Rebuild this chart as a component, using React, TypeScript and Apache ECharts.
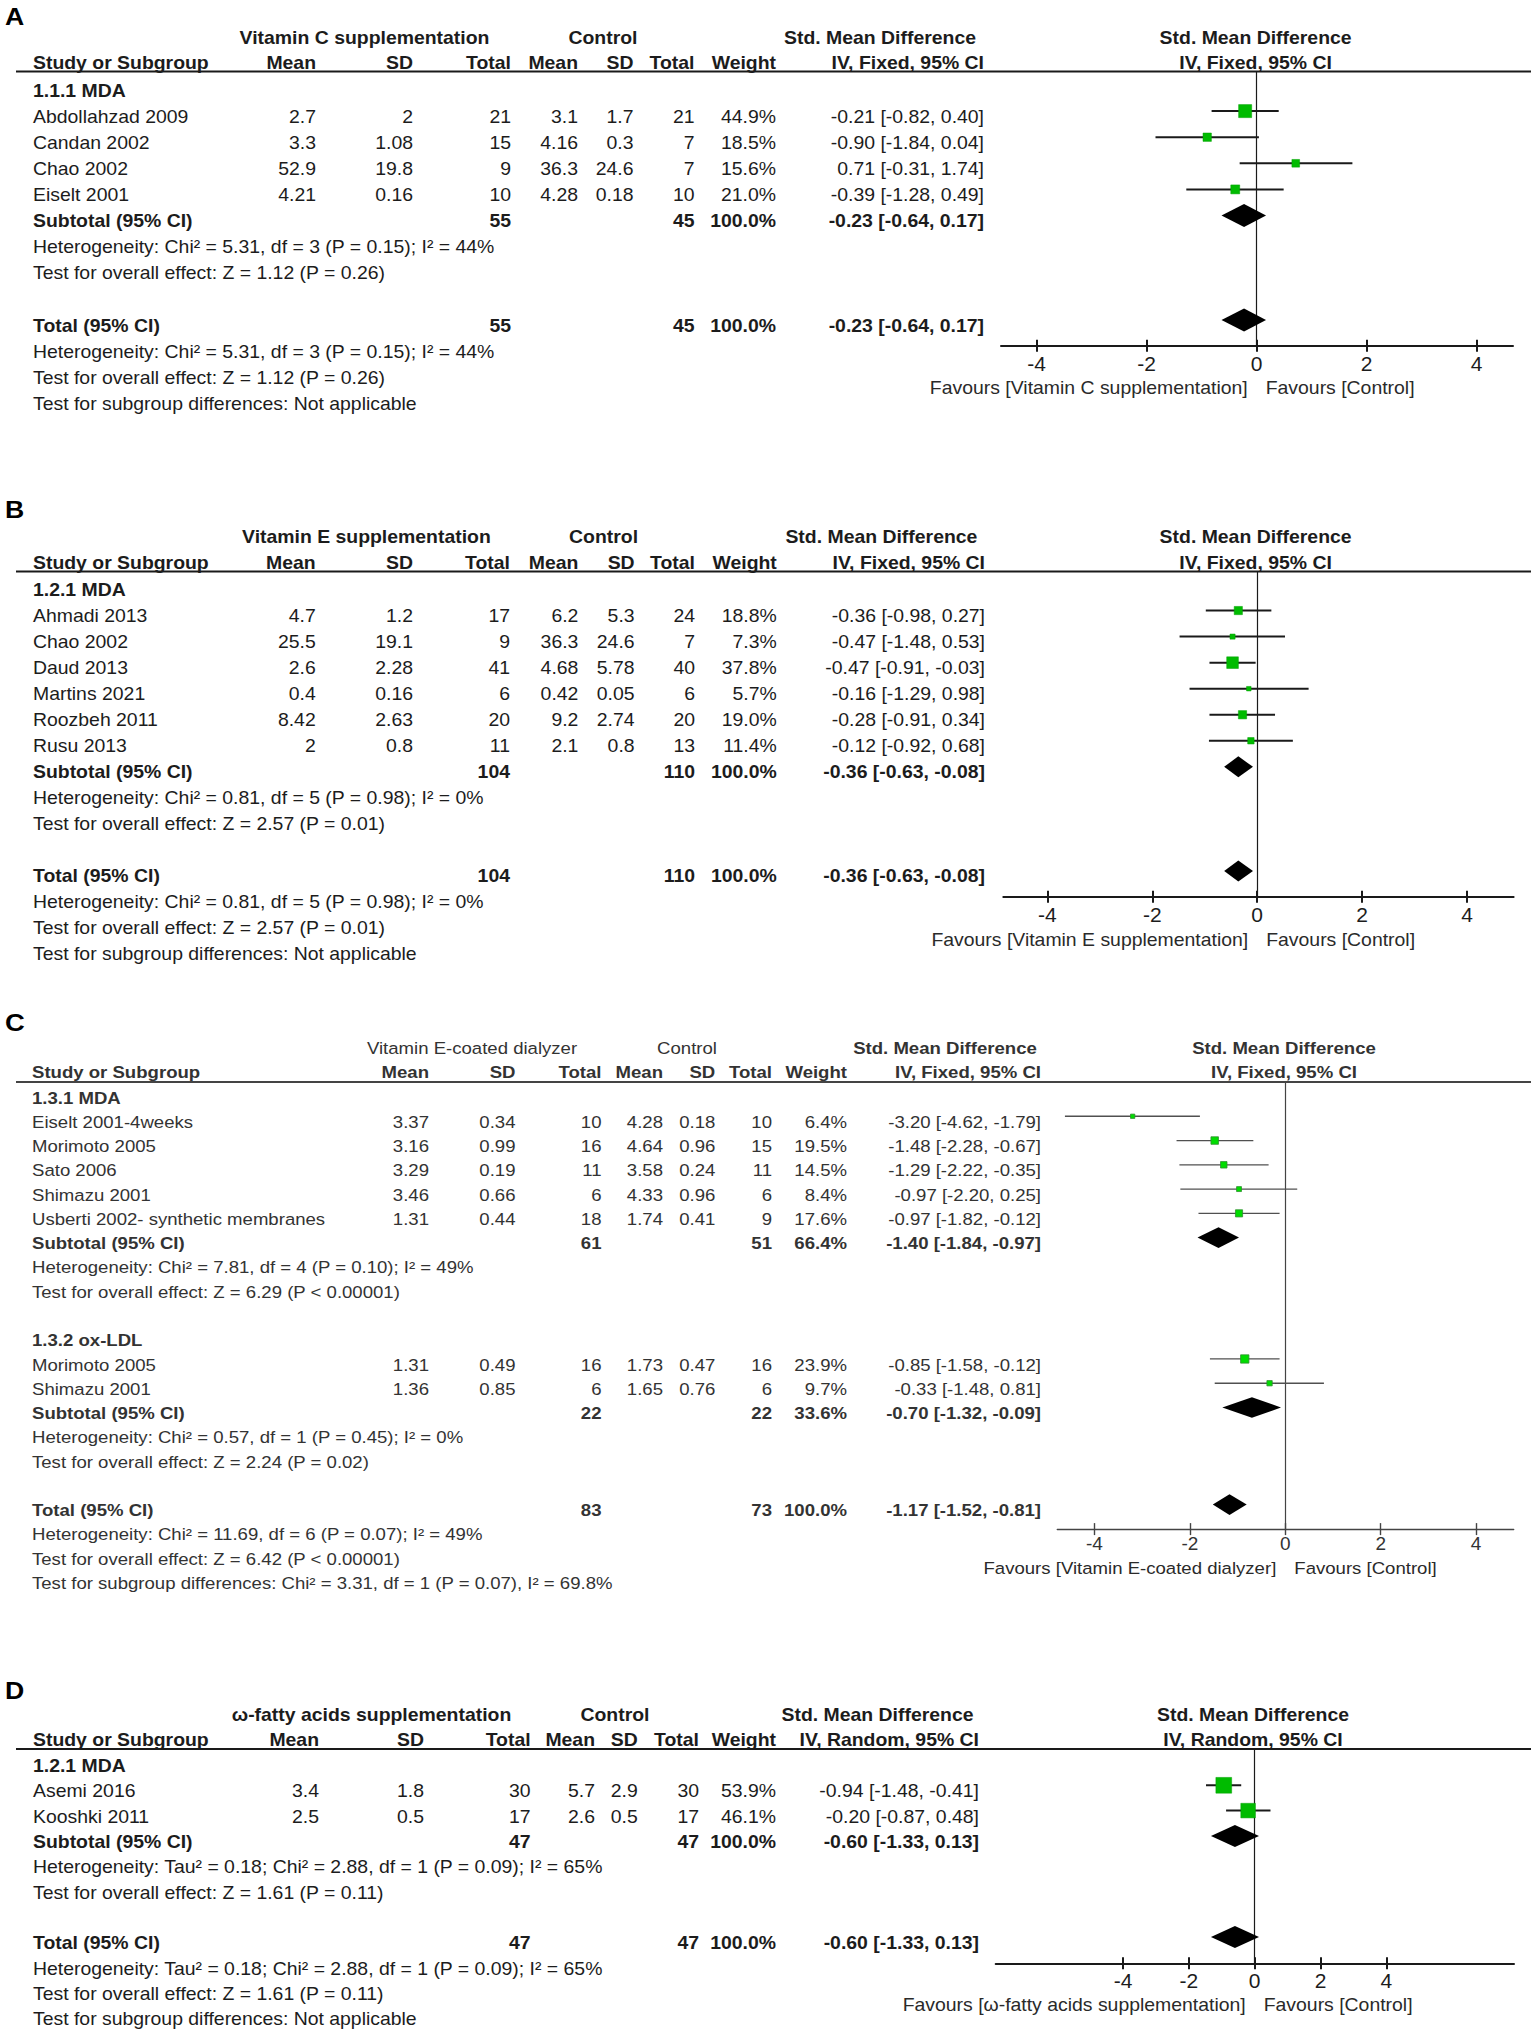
import React, { useEffect, useRef } from "react";
import * as echarts from "echarts";

type Study = [string, number, number, number, number, number, number, number, number, number, number];
// [nExp, nCtl, weight %, SMD, lower, upper]
type Summary = [number, number, number, number, number, number];

const W = 1535;
const H = 2031;
const FONT = "'Liberation Sans', Arial, sans-serif";

const X_TICKS = [-4, -2, 0, 2, 4];
const COL_HEADERS = ["Mean", "SD", "Total", "Mean", "SD", "Total", "Weight"];
const CONTROL_LABEL = "Control";
const SMD_LABEL = "Std. Mean Difference";
const STUDY_HEADER = "Study or Subgroup";
const FIXED = "IV, Fixed, 95% CI";
const RANDOM = "IV, Random, 95% CI";

// ---------- Panel A ----------
const A_EXP = "Vitamin C supplementation";
const A_GROUP = "1.1.1 MDA";
const A_STUDIES: Study[] = [
  ["Abdollahzad 2009", 2.7, 2, 21, 3.1, 1.7, 21, 44.9, -0.21, -0.82, 0.4],
  ["Candan 2002", 3.3, 1.08, 15, 4.16, 0.3, 7, 18.5, -0.9, -1.84, 0.04],
  ["Chao 2002", 52.9, 19.8, 9, 36.3, 24.6, 7, 15.6, 0.71, -0.31, 1.74],
  ["Eiselt 2001", 4.21, 0.16, 10, 4.28, 0.18, 10, 21.0, -0.39, -1.28, 0.49],
];
const A_SUBTOTAL: Summary = [55, 45, 100, -0.23, -0.64, 0.17];
const A_HET = "Heterogeneity: Chi² = 5.31, df = 3 (P = 0.15); I² = 44%";
const A_Z = "Test for overall effect: Z = 1.12 (P = 0.26)";
const A_TOTAL: Summary = [55, 45, 100, -0.23, -0.64, 0.17];
const A_TOTAL_HET = "Heterogeneity: Chi² = 5.31, df = 3 (P = 0.15); I² = 44%";
const A_TOTAL_Z = "Test for overall effect: Z = 1.12 (P = 0.26)";
const A_SUBGROUP_TEST = "Test for subgroup differences: Not applicable";

// ---------- Panel B ----------
const B_EXP = "Vitamin E supplementation";
const B_GROUP = "1.2.1 MDA";
const B_STUDIES: Study[] = [
  ["Ahmadi 2013", 4.7, 1.2, 17, 6.2, 5.3, 24, 18.8, -0.36, -0.98, 0.27],
  ["Chao 2002", 25.5, 19.1, 9, 36.3, 24.6, 7, 7.3, -0.47, -1.48, 0.53],
  ["Daud 2013", 2.6, 2.28, 41, 4.68, 5.78, 40, 37.8, -0.47, -0.91, -0.03],
  ["Martins 2021", 0.4, 0.16, 6, 0.42, 0.05, 6, 5.7, -0.16, -1.29, 0.98],
  ["Roozbeh 2011", 8.42, 2.63, 20, 9.2, 2.74, 20, 19.0, -0.28, -0.91, 0.34],
  ["Rusu 2013", 2, 0.8, 11, 2.1, 0.8, 13, 11.4, -0.12, -0.92, 0.68],
];
const B_SUBTOTAL: Summary = [104, 110, 100, -0.36, -0.63, -0.08];
const B_HET = "Heterogeneity: Chi² = 0.81, df = 5 (P = 0.98); I² = 0%";
const B_Z = "Test for overall effect: Z = 2.57 (P = 0.01)";
const B_TOTAL: Summary = [104, 110, 100, -0.36, -0.63, -0.08];
const B_TOTAL_HET = "Heterogeneity: Chi² = 0.81, df = 5 (P = 0.98); I² = 0%";
const B_TOTAL_Z = "Test for overall effect: Z = 2.57 (P = 0.01)";
const B_SUBGROUP_TEST = "Test for subgroup differences: Not applicable";

// ---------- Panel C ----------
const C_EXP = "Vitamin E-coated dialyzer";
const C_GROUP_1 = "1.3.1 MDA";
const C_STUDIES_1: Study[] = [
  ["Eiselt 2001-4weeks", 3.37, 0.34, 10, 4.28, 0.18, 10, 6.4, -3.2, -4.62, -1.79],
  ["Morimoto 2005", 3.16, 0.99, 16, 4.64, 0.96, 15, 19.5, -1.48, -2.28, -0.67],
  ["Sato 2006", 3.29, 0.19, 11, 3.58, 0.24, 11, 14.5, -1.29, -2.22, -0.35],
  ["Shimazu 2001", 3.46, 0.66, 6, 4.33, 0.96, 6, 8.4, -0.97, -2.2, 0.25],
  ["Usberti 2002- synthetic membranes", 1.31, 0.44, 18, 1.74, 0.41, 9, 17.6, -0.97, -1.82, -0.12],
];
const C_SUBTOTAL_1: Summary = [61, 51, 66.4, -1.4, -1.84, -0.97];
const C_HET_1 = "Heterogeneity: Chi² = 7.81, df = 4 (P = 0.10); I² = 49%";
const C_Z_1 = "Test for overall effect: Z = 6.29 (P < 0.00001)";
const C_GROUP_2 = "1.3.2 ox-LDL";
const C_STUDIES_2: Study[] = [
  ["Morimoto 2005", 1.31, 0.49, 16, 1.73, 0.47, 16, 23.9, -0.85, -1.58, -0.12],
  ["Shimazu 2001", 1.36, 0.85, 6, 1.65, 0.76, 6, 9.7, -0.33, -1.48, 0.81],
];
const C_SUBTOTAL_2: Summary = [22, 22, 33.6, -0.7, -1.32, -0.09];
const C_HET_2 = "Heterogeneity: Chi² = 0.57, df = 1 (P = 0.45); I² = 0%";
const C_Z_2 = "Test for overall effect: Z = 2.24 (P = 0.02)";
const C_TOTAL: Summary = [83, 73, 100, -1.17, -1.52, -0.81];
const C_TOTAL_HET = "Heterogeneity: Chi² = 11.69, df = 6 (P = 0.07); I² = 49%";
const C_TOTAL_Z = "Test for overall effect: Z = 6.42 (P < 0.00001)";
const C_SUBGROUP_TEST = "Test for subgroup differences: Chi² = 3.31, df = 1 (P = 0.07), I² = 69.8%";

// ---------- Panel D ----------
const D_EXP = "ω-fatty acids supplementation";
const D_GROUP = "1.2.1 MDA";
const D_STUDIES: Study[] = [
  ["Asemi 2016", 3.4, 1.8, 30, 5.7, 2.9, 30, 53.9, -0.94, -1.48, -0.41],
  ["Kooshki 2011", 2.5, 0.5, 17, 2.6, 0.5, 17, 46.1, -0.2, -0.87, 0.48],
];
const D_SUBTOTAL: Summary = [47, 47, 100, -0.6, -1.33, 0.13];
const D_HET = "Heterogeneity: Tau² = 0.18; Chi² = 2.88, df = 1 (P = 0.09); I² = 65%";
const D_Z = "Test for overall effect: Z = 1.61 (P = 0.11)";
const D_TOTAL: Summary = [47, 47, 100, -0.6, -1.33, 0.13];
const D_TOTAL_HET = "Heterogeneity: Tau² = 0.18; Chi² = 2.88, df = 1 (P = 0.09); I² = 65%";
const D_TOTAL_Z = "Test for overall effect: Z = 1.61 (P = 0.11)";
const D_SUBGROUP_TEST = "Test for subgroup differences: Not applicable";

type Group = { name: string; studies: Study[]; subtotal: Summary; het: string; z: string };
type Panel = {
  letter: string;
  exp: string;
  method: string;
  groups: Group[];
  total: Summary;
  totalHet: string;
  totalZ: string;
  subgroupTest: string;
};

const PANELS: Panel[] = [
  {
    letter: "A", exp: A_EXP, method: FIXED,
    groups: [{ name: A_GROUP, studies: A_STUDIES, subtotal: A_SUBTOTAL, het: A_HET, z: A_Z }],
    total: A_TOTAL, totalHet: A_TOTAL_HET, totalZ: A_TOTAL_Z, subgroupTest: A_SUBGROUP_TEST,
  },
  {
    letter: "B", exp: B_EXP, method: FIXED,
    groups: [{ name: B_GROUP, studies: B_STUDIES, subtotal: B_SUBTOTAL, het: B_HET, z: B_Z }],
    total: B_TOTAL, totalHet: B_TOTAL_HET, totalZ: B_TOTAL_Z, subgroupTest: B_SUBGROUP_TEST,
  },
  {
    letter: "C", exp: C_EXP, method: FIXED,
    groups: [
      { name: C_GROUP_1, studies: C_STUDIES_1, subtotal: C_SUBTOTAL_1, het: C_HET_1, z: C_Z_1 },
      { name: C_GROUP_2, studies: C_STUDIES_2, subtotal: C_SUBTOTAL_2, het: C_HET_2, z: C_Z_2 },
    ],
    total: C_TOTAL, totalHet: C_TOTAL_HET, totalZ: C_TOTAL_Z, subgroupTest: C_SUBGROUP_TEST,
  },
  {
    letter: "D", exp: D_EXP, method: RANDOM,
    groups: [{ name: D_GROUP, studies: D_STUDIES, subtotal: D_SUBTOTAL, het: D_HET, z: D_Z }],
    total: D_TOTAL, totalHet: D_TOTAL_HET, totalZ: D_TOTAL_Z, subgroupTest: D_SUBGROUP_TEST,
  },
];

// ---------- Layout (pixel positions & styles) ----------
type Layout = {
  letterY: number; h1: number; h2: number; lineY: number; row0: number; rowH: number;
  textX: number; cols: number[]; h1c: number[]; h1Bold: boolean; plotC: number;
  zeroX: number; unit: number; axisL: number; axisR: number; axisY: number; favY: number;
  font: number; sx: number; color: string; tickFont: number; tickMargin: number;
  markOff: number; boxK: number; diaH: number; ciW: number; ciColor: string;
  boxColor: string; boxStroke: string; boxStrokeW: number; axisColor: string; axisW: number;
};

const LAYOUTS: Layout[] = [
  {
    letterY: 16.5, h1: 38.3, h2: 63.3, lineY: 71.5, row0: 90.5, rowH: 26.1,
    textX: 33, cols: [316, 413, 511, 578, 633.5, 694.5, 776, 984], h1c: [364.5, 603, 880], h1Bold: true, plotC: 1255.6,
    zeroX: 1256.7, unit: 55.0, axisL: 1001, axisR: 1513, axisY: 345.7, favY: 388,
    font: 17.5, sx: 1.11, color: "#1c1c1c", tickFont: 21, tickMargin: 7,
    markOff: -5.5, boxK: 1.95, diaH: 11.5, ciW: 2, ciColor: "#1a1a1a",
    boxColor: "#00bb00", boxStroke: "#00a000", boxStrokeW: 0.5, axisColor: "#1a1a1a", axisW: 2,
  },
  {
    letterY: 509, h1: 536.7, h2: 562.7, lineY: 571.5, row0: 589.5, rowH: 26.05,
    textX: 33, cols: [315.7, 413, 510, 578.4, 634.6, 695, 776.8, 985], h1c: [366.4, 603.6, 881.4], h1Bold: true, plotC: 1255.6,
    zeroX: 1257.2, unit: 52.45, axisL: 1003.3, axisR: 1513.6, axisY: 896.7, favY: 940,
    font: 17.5, sx: 1.11, color: "#1c1c1c", tickFont: 21, tickMargin: 7,
    markOff: -5, boxK: 1.9, diaH: 10.5, ciW: 2, ciColor: "#1a1a1a",
    boxColor: "#00bb00", boxStroke: "#00a000", boxStrokeW: 0.5, axisColor: "#1a1a1a", axisW: 2,
  },
  {
    letterY: 1023, h1: 1048.4, h2: 1072.8, lineY: 1082, row0: 1098, rowH: 24.27,
    textX: 32, cols: [429, 515.5, 601.5, 663, 715.3, 772, 847, 1041], h1c: [472, 687, 945], h1Bold: false, plotC: 1284,
    zeroX: 1285.3, unit: 47.7, axisL: 1057.3, axisR: 1513.7, axisY: 1529.1, favY: 1568.5,
    font: 16.3, sx: 1.14, color: "#333333", tickFont: 19, tickMargin: 5,
    markOff: -6, boxK: 1.7, diaH: 10.3, ciW: 1.3, ciColor: "#505050",
    boxColor: "#00dd00", boxStroke: "#2f8f2f", boxStrokeW: 0.8, axisColor: "#444444", axisW: 1.4,
  },
  {
    letterY: 1690, h1: 1715, h2: 1740, lineY: 1749, row0: 1766, rowH: 25.3,
    textX: 33, cols: [319, 424, 530.6, 595, 637.8, 699, 776, 979], h1c: [371.5, 615, 877.5], h1Bold: true, plotC: 1253,
    zeroX: 1254.7, unit: 32.9, axisL: 995.7, axisR: 1514, axisY: 1963.3, favY: 2005,
    font: 17.5, sx: 1.11, color: "#1c1c1c", tickFont: 21, tickMargin: 7,
    markOff: -6, boxK: 2.15, diaH: 11, ciW: 2, ciColor: "#1a1a1a",
    boxColor: "#00bb00", boxStroke: "#00a000", boxStrokeW: 0.5, axisColor: "#1a1a1a", axisW: 2,
  },
];

const f2 = (v: number) => v.toFixed(2);
const ciText = (s: number, l: number, h: number) => `${f2(s)} [${f2(l)}, ${f2(h)}]`;

function buildOption() {
  const graphics: any[] = [];
  const grid: any[] = [];
  const xAxis: any[] = [];
  const yAxis: any[] = [];
  const series: any[] = [];

  PANELS.forEach((d, pi) => {
    const L = LAYOUTS[pi];
    const items: number[][] = [];
    const T = (
      x: number, y: number, text: string, align: string,
      bold = false, size = L.font, color = L.color
    ) => {
      graphics.push({
        type: "text", x, y, scaleX: L.sx, silent: true, z: 10,
        style: {
          text, fontFamily: FONT, fontSize: size, fontWeight: bold ? "bold" : "normal", fill: color,
          align, verticalAlign: "middle", textAlign: align, textVerticalAlign: "middle",
        },
      });
    };

    // panel letter
    T(5, L.letterY, d.letter, "left", true, 24, "#000");

    // header row 1
    T(L.h1c[0], L.h1, d.exp, "center", L.h1Bold);
    T(L.h1c[1], L.h1, CONTROL_LABEL, "center", L.h1Bold);
    T(L.h1c[2], L.h1, SMD_LABEL, "center", true);
    T(L.plotC, L.h1, SMD_LABEL, "center", true);
    // header row 2
    T(L.textX, L.h2, STUDY_HEADER, "left", true);
    COL_HEADERS.forEach((h, k) => T(L.cols[k], L.h2, h, "right", true));
    T(L.cols[7], L.h2, d.method, "right", true);
    T(L.plotC, L.h2, d.method, "center", true);
    // header rule
    graphics.push({
      type: "line", silent: true, z: 5,
      shape: { x1: 16, y1: L.lineY, x2: 1531, y2: L.lineY },
      style: { stroke: L.axisColor, lineWidth: 2 },
    });

    let r = 0;
    const rowY = (i: number) => L.row0 + i * L.rowH;
    const summaryRow = (label: string, s: Summary) => {
      const y = rowY(r);
      T(L.textX, y, label, "left", true);
      T(L.cols[2], y, String(s[0]), "right", true);
      T(L.cols[5], y, String(s[1]), "right", true);
      T(L.cols[6], y, `${s[2].toFixed(1)}%`, "right", true);
      T(L.cols[7], y, ciText(s[3], s[4], s[5]), "right", true);
      items.push([1, s[3], s[4], s[5], r, s[2]]);
      r++;
    };

    d.groups.forEach((g) => {
      T(L.textX, rowY(r), g.name, "left", true);
      r++;
      g.studies.forEach((s) => {
        const y = rowY(r);
        T(L.textX, y, s[0], "left");
        for (let k = 0; k < 6; k++) T(L.cols[k], y, String(s[k + 1]), "right");
        T(L.cols[6], y, `${s[7].toFixed(1)}%`, "right");
        T(L.cols[7], y, ciText(s[8], s[9], s[10]), "right");
        items.push([0, s[8], s[9], s[10], r, s[7]]);
        r++;
      });
      summaryRow("Subtotal (95% CI)", g.subtotal);
      T(L.textX, rowY(r), g.het, "left");
      r++;
      T(L.textX, rowY(r), g.z, "left");
      r++;
      r++; // blank line
    });
    summaryRow("Total (95% CI)", d.total);
    T(L.textX, rowY(r), d.totalHet, "left");
    r++;
    T(L.textX, rowY(r), d.totalZ, "left");
    r++;
    T(L.textX, rowY(r), d.subgroupTest, "left");

    // favours labels
    T(L.zeroX - 9, L.favY, `Favours [${d.exp}]`, "right", false, L.font, "#2a2a2a");
    T(L.zeroX + 9, L.favY, "Favours [Control]", "left", false, L.font, "#2a2a2a");

    // forest-plot coordinate system
    const mark0 = L.row0 + L.markOff;
    grid.push({
      left: L.axisL, top: L.lineY, width: L.axisR - L.axisL, height: L.axisY - L.lineY,
      containLabel: false, outerBoundsMode: "none",
    });
    const xMin = (L.axisL - L.zeroX) / L.unit;
    const xMax = (L.axisR - L.zeroX) / L.unit;
    xAxis.push({
      type: "value", gridIndex: pi, min: xMin, max: xMax, position: "bottom",
      axisLine: { show: true, onZero: false, lineStyle: { color: L.axisColor, width: L.axisW } },
      axisTick: { show: true, inside: false, length: 6, customValues: X_TICKS, lineStyle: { color: L.axisColor, width: L.axisW } },
      axisLabel: {
        show: true, margin: L.tickMargin, customValues: X_TICKS,
        fontFamily: FONT, fontSize: L.tickFont, color: L.color,
      },
      splitLine: { show: false },
    });
    xAxis.push({
      type: "value", gridIndex: pi, min: xMin, max: xMax, position: "bottom", offset: 0,
      axisLine: { show: false, onZero: false },
      axisTick: { show: true, inside: true, length: 6, customValues: X_TICKS, lineStyle: { color: L.axisColor, width: L.axisW } },
      axisLabel: { show: false, customValues: X_TICKS },
      splitLine: { show: false },
    });
    yAxis.push({
      type: "value", gridIndex: pi, inverse: true,
      min: (L.lineY - mark0) / L.rowH, max: (L.axisY - mark0) / L.rowH,
      axisLine: { show: true, onZero: true, lineStyle: { color: L.axisColor, width: 1.2 } },
      axisTick: { show: false }, axisLabel: { show: false }, splitLine: { show: false },
    });
    series.push({
      type: "custom", coordinateSystem: "cartesian2d", xAxisIndex: pi * 2, yAxisIndex: pi,
      silent: true, clip: false, z: 3,
      encode: { x: [1, 2, 3], y: 4 },
      data: items,
      renderItem: (_params: any, api: any) => {
        const kind = api.value(0);
        const est = api.value(1);
        const lo = api.value(2);
        const hi = api.value(3);
        const row = api.value(4);
        const w = api.value(5);
        const pE = api.coord([est, row]);
        const pL = api.coord([lo, row]);
        const pH = api.coord([hi, row]);
        if (kind === 0) {
          const s = L.boxK * Math.sqrt(w);
          return {
            type: "group",
            children: [
              {
                type: "line",
                shape: { x1: pL[0], y1: pL[1], x2: pH[0], y2: pH[1] },
                style: { stroke: L.ciColor, lineWidth: L.ciW },
              },
              {
                type: "rect",
                shape: { x: pE[0] - s / 2, y: pE[1] - s / 2, width: s, height: s },
                style: { fill: L.boxColor, stroke: L.boxStroke, lineWidth: L.boxStrokeW },
              },
            ],
          };
        }
        const h = L.diaH;
        return {
          type: "polygon",
          shape: { points: [[pL[0], pL[1]], [pE[0], pE[1] - h], [pH[0], pH[1]], [pE[0], pE[1] + h]] },
          style: { fill: "#000" },
        };
      },
    });
  });

  return {
    animation: false,
    backgroundColor: "#ffffff",
    grid, xAxis, yAxis, series,
    graphic: { elements: graphics },
  };
}

export default function App() {
  const ref = useRef<HTMLDivElement>(null);
  useEffect(() => {
    if (!ref.current) return;
    const chart = echarts.init(ref.current, undefined, { renderer: "svg", width: W, height: H });
    chart.setOption(buildOption() as any);
    return () => chart.dispose();
  }, []);
  return (
    <div
      ref={ref}
      style={{ position: "absolute", left: 0, top: 0, width: W, height: H, background: "#fff" }}
    />
  );
}
